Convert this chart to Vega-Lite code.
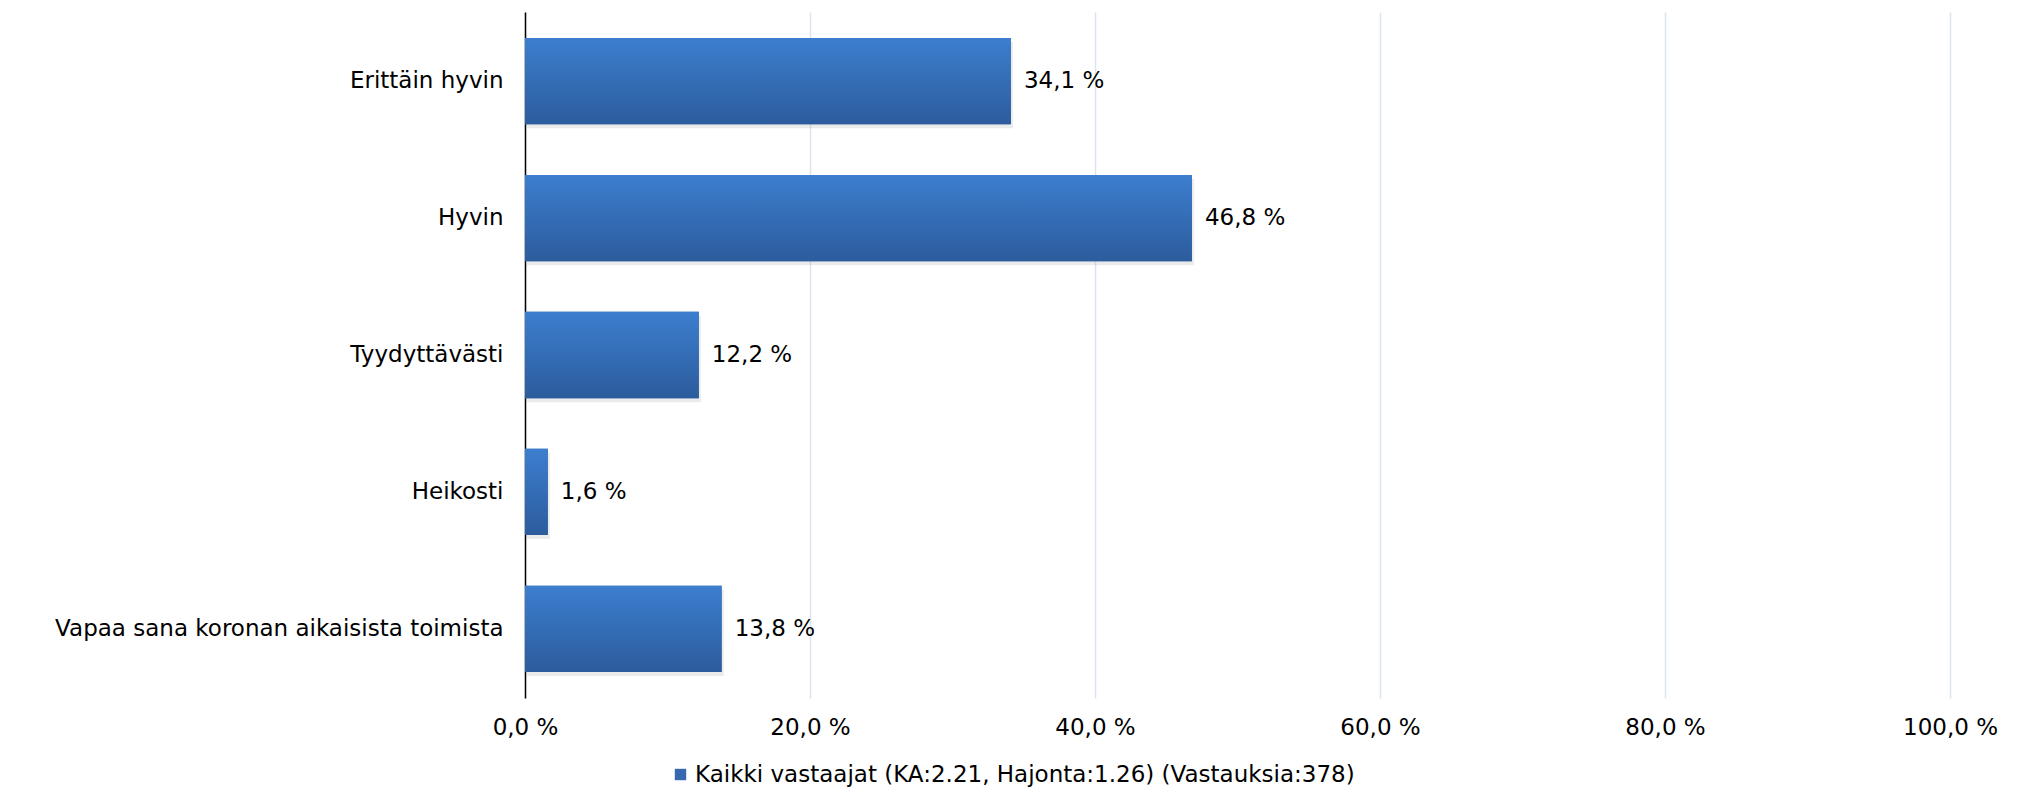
{
  "$schema": "https://vega.github.io/schema/vega-lite/v6.json",
  "autosize": "none",
  "width": 1425,
  "height": 686,
  "padding": {"left": 525, "top": 12, "right": 68, "bottom": 91},
  "background": "white",
  "config": {
    "view": {"stroke": null},
    "font": "DejaVu Sans",
    "locale": {
      "number": {"decimal": ",", "thousands": "\u00a0", "grouping": [3], "currency": ["", " €"], "percent": " %"}
    }
  },
  "data": {
    "values": [
      {"vastaus": "Erittäin hyvin", "osuus": 0.341},
      {"vastaus": "Hyvin", "osuus": 0.468},
      {"vastaus": "Tyydyttävästi", "osuus": 0.122},
      {"vastaus": "Heikosti", "osuus": 0.016},
      {"vastaus": "Vapaa sana koronan aikaisista toimista", "osuus": 0.138}
    ]
  },
  "encoding": {
    "y": {
      "field": "vastaus",
      "type": "nominal",
      "sort": null,
      "scale": {"paddingInner": 0.37, "paddingOuter": 0.19},
      "axis": {
        "title": null,
        "labelFontSize": 23,
        "labelColor": "#000000",
        "labelPadding": 22,
        "labelLimit": 700,
        "ticks": false,
        "domain": true,
        "domainColor": "#000000",
        "domainWidth": 1.5
      }
    },
    "x": {
      "field": "osuus",
      "type": "quantitative",
      "scale": {"domain": [0, 1], "nice": false},
      "axis": {
        "title": null,
        "values": [0, 0.2, 0.4, 0.6, 0.8, 1],
        "format": ".1%",
        "labelFontSize": 23,
        "labelColor": "#000000",
        "labelPadding": 18,
        "labelFlush": false,
        "labelOverlap": false,
        "ticks": false,
        "domain": false,
        "grid": true,
        "gridColor": "#DCE5EE",
        "gridWidth": 1.5
      }
    }
  },
  "layer": [
    {
      "mark": {"type": "bar", "fill": "#8f8f8f", "opacity": 0.18, "yOffset": 4, "xOffset": 2},
      "encoding": {}
    },
    {
      "mark": {"type": "bar"},
      "encoding": {
        "color": {
          "datum": "Kaikki vastaajat (KA:2.21, Hajonta:1.26) (Vastauksia:378)",
          "type": "nominal",
          "scale": {"range": ["#3568AE"]},
          "legend": {
            "title": null,
            "orient": "none",
            "legendX": 144,
            "legendY": 751,
            "symbolType": "square",
            "symbolSize": 130,
            "symbolStrokeWidth": 0,
            "labelFontSize": 23,
            "labelColor": "#000000",
            "labelOffset": 3,
            "labelLimit": 1000
          }
        }
      }
    },
    {
      "mark": {
        "type": "bar",
        "fill": {
          "gradient": "linear",
          "x1": 0, "y1": 0, "x2": 0, "y2": 1,
          "stops": [
            {"offset": 0, "color": "#3C7ECF"},
            {"offset": 1, "color": "#2C5C9C"}
          ]
        }
      },
      "encoding": {}
    },
    {
      "mark": {"type": "text", "align": "left", "baseline": "middle", "dx": 13, "fontSize": 23, "color": "#000000"},
      "encoding": {
        "text": {"field": "osuus", "type": "quantitative", "format": ".1%"}
      }
    }
  ]
}
